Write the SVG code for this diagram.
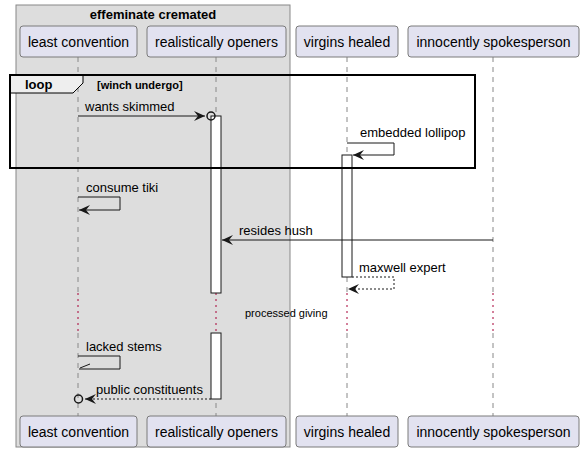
<svg xmlns="http://www.w3.org/2000/svg" width="584" height="458" viewBox="0 0 584 458">
<defs>
<style>
text{font-family:"Liberation Sans",Arial,sans-serif;fill:#000}
.p rect{fill:#E2E2F0;stroke:#7a7a7a;stroke-width:1}
.p text{font-size:14px;text-anchor:middle}
.life{stroke:#888;stroke-width:1;stroke-dasharray:5,5;fill:none}
.dot{stroke:#A80036;stroke-width:1;stroke-dasharray:2,4;fill:none}
.msg{stroke:#181818;stroke-width:1;fill:none}
.dash{stroke-dasharray:2,2}
.act{fill:#fff;stroke:#181818;stroke-width:1}
.lbl{font-size:13px}
</style>
<marker id="ah" viewBox="0 0 12 10" refX="11" refY="5" markerWidth="12" markerHeight="10" markerUnits="userSpaceOnUse" orient="auto">
<path d="M0,0 L11,5 L0,10 L4,5 Z" fill="#181818"/>
</marker>
</defs>
<g id="group-effeminate-cremated">
<rect x="16" y="5" width="274" height="442" fill="#DDDDDD" stroke="#888" stroke-width="1"/>
<text x="153" y="19" font-size="13" font-weight="bold" text-anchor="middle">effeminate cremated</text>
</g>
<g id="lifelines">
<line class="life" x1="78" y1="57" x2="78" y2="292"/>
<line class="life" x1="78" y1="333" x2="78" y2="416"/>
<line class="life" x1="216" y1="57" x2="216" y2="292"/>
<line class="life" x1="216" y1="333" x2="216" y2="416"/>
<line class="life" x1="347" y1="57" x2="347" y2="292"/>
<line class="life" x1="347" y1="333" x2="347" y2="416"/>
<line class="life" x1="493" y1="57" x2="493" y2="292"/>
<line class="life" x1="493" y1="333" x2="493" y2="416"/>
<line class="dot" x1="78" y1="293" x2="78" y2="332"/>
<line class="dot" x1="216" y1="293" x2="216" y2="332"/>
<line class="dot" x1="347" y1="293" x2="347" y2="332"/>
<line class="dot" x1="493" y1="293" x2="493" y2="332"/>
</g>
<g id="p-least-convention" class="p">
<rect x="20" y="26" width="117" height="31" rx="3"/>
<text x="78.5" y="47">least convention</text>
<rect x="20" y="416" width="117" height="31" rx="3"/>
<text x="78.5" y="437">least convention</text>
</g>
<g id="p-realistically-openers" class="p">
<rect x="147" y="26" width="139" height="31" rx="3"/>
<text x="216.5" y="47">realistically openers</text>
<rect x="147" y="416" width="139" height="31" rx="3"/>
<text x="216.5" y="437">realistically openers</text>
</g>
<g id="p-virgins-healed" class="p">
<rect x="296" y="26" width="102" height="31" rx="3"/>
<text x="347" y="47">virgins healed</text>
<rect x="296" y="416" width="102" height="31" rx="3"/>
<text x="347" y="437">virgins healed</text>
</g>
<g id="p-innocently-spokesperson" class="p">
<rect x="408" y="26" width="171" height="31" rx="3"/>
<text x="493.5" y="47">innocently spokesperson</text>
<rect x="408" y="416" width="171" height="31" rx="3"/>
<text x="493.5" y="437">innocently spokesperson</text>
</g>
<g id="activations">
<rect class="act" x="211" y="116" width="10" height="177"/>
<rect class="act" x="211" y="333" width="10" height="66"/>
<rect class="act" x="342" y="155" width="10" height="122"/>
</g>
<g id="loop-frame">
<path d="M10,75 L83,75 L83,83 L73,93 L10,93 Z" fill="#EEEEEE" stroke="#000" stroke-width="1"/>
<rect x="10" y="75" width="465" height="93" fill="none" stroke="#000" stroke-width="2"/>
<text x="25" y="89" font-size="13" font-weight="bold">loop</text>
<text x="97" y="89" font-size="11" font-weight="bold">[winch undergo]</text>
</g>
<g id="connectors">
<line class="msg" x1="78" y1="116" x2="205" y2="116" marker-end="url(#ah)"/>
<circle cx="211" cy="116" r="4" fill="none" stroke="#181818" stroke-width="1.5"/>
<text class="lbl" x="85" y="111">wants skimmed</text>
<polyline class="msg" points="347,143 394,143 394,155 353,155" marker-end="url(#ah)"/>
<text class="lbl" x="360" y="137">embedded lollipop</text>
<polyline class="msg" points="78,197 120,197 120,210 79,210" marker-end="url(#ah)"/>
<text class="lbl" x="86" y="192">consume tiki</text>
<line class="msg" x1="493" y1="240" x2="222" y2="240" marker-end="url(#ah)"/>
<text class="lbl" x="239" y="235">resides hush</text>
<polyline class="msg dash" points="352,277 394,277 394,289 348,289" marker-end="url(#ah)"/>
<text class="lbl" x="359" y="272">maxwell expert</text>
<text x="245" y="317" font-size="11">processed giving</text>
<polyline class="msg" points="78,356 120,356 120,369 79,369"/>
<line class="msg" x1="80" y1="368" x2="90" y2="364"/>
<text class="lbl" x="86" y="351">lacked stems</text>
<line class="msg dash" x1="211" y1="399" x2="85" y2="399" marker-end="url(#ah)"/>
<circle cx="78.5" cy="399" r="4" fill="none" stroke="#181818" stroke-width="1.5"/>
<text class="lbl" x="96" y="394">public constituents</text>
</g>
</svg>
